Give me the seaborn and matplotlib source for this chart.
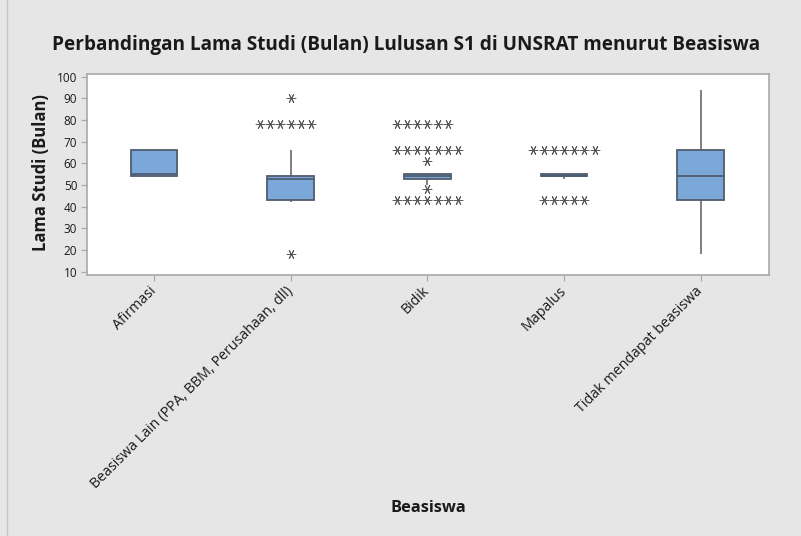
import numpy as np
import pandas as pd
import matplotlib
matplotlib.use("Agg")
import matplotlib.pyplot as plt
import seaborn as sns
from matplotlib.lines import Line2D

# ---- data (values in months, with how many graduates had each value) ----
categories = ["Afirmasi", "Beasiswa Lain (PPA, BBM, Perusahaan, dll)", "Bidik",
              "Mapalus", "Tidak mendapat beasiswa"]

afirmasi_values = [54, 55, 66]
afirmasi_counts = [2, 1, 2]

lain_values = [18, 42, 43, 45, 48, 50, 52, 53, 54, 66, 78, 90]
lain_counts = [1, 1, 8, 1, 1, 1, 1, 5, 9, 2, 6, 1]

bidik_values = [43, 48, 50, 53, 54, 55, 61, 66, 78]
bidik_counts = [7, 1, 1, 14, 16, 8, 1, 7, 6]

mapalus_values = [43, 53, 54, 55, 66]
mapalus_counts = [5, 1, 11, 9, 7]

tidak_values = [18, 30, 42, 43, 48, 50, 54, 60, 64, 66, 78, 90, 94]
tidak_counts = [1, 1, 1, 1, 1, 1, 1, 1, 1, 1, 1, 1, 1]

title = "Perbandingan Lama Studi (Bulan) Lulusan S1 di UNSRAT menurut Beasiswa"
ylabel = "Lama Studi (Bulan)"
xlabel = "Beasiswa"
yticks = [10, 20, 30, 40, 50, 60, 70, 80, 90, 100]

groups = [(afirmasi_values, afirmasi_counts), (lain_values, lain_counts),
          (bidik_values, bidik_counts), (mapalus_values, mapalus_counts),
          (tidak_values, tidak_counts)]

rows = []
out_rows = []
for cat, (vals, cnts) in zip(categories, groups):
    v = np.repeat(np.array(vals, dtype=float), cnts)
    q1, q3 = np.percentile(v, [25, 75])
    iqr = q3 - q1
    for x in v:
        rows.append((cat, x))
        if x < q1 - 1.5 * iqr or x > q3 + 1.5 * iqr:
            out_rows.append((cat, x))
df = pd.DataFrame(rows, columns=["Beasiswa", "Lama"])
out_df = pd.DataFrame(out_rows, columns=["Beasiswa", "Lama"])

# ---- style ----
sns.set_theme(style="white")
plt.rcParams["font.family"] = ["Open Sans", "DejaVu Sans"]
BG = "#e6e6e6"
BOX = "#7ba7d9"
EDGE = "#4f5d70"
GREY = "#5c5c5c"
SPINE = "#a9a9a9"
TXT = "#1a1a1a"

W, H = 801, 536
fig = plt.figure(figsize=(W / 100, H / 100), dpi=100, facecolor=BG)
ax = fig.add_axes([87 / W, 1 - 275 / H, (769 - 87) / W, (275 - 74) / H])
ax.set_facecolor("white")

sns.boxplot(data=df, x="Beasiswa", y="Lama", order=categories, ax=ax,
            width=0.34, color=BOX, saturation=1, linecolor=EDGE, linewidth=1.3,
            showfliers=False, showcaps=False, whis=1.5,
            whiskerprops=dict(color=GREY, linewidth=1.1),
            medianprops=dict(color=EDGE, linewidth=1.3))

sns.swarmplot(data=out_df, x="Beasiswa", y="Lama", order=categories, ax=ax,
              marker=(6, 2, 90), size=6.3, color=GREY, linewidth=0.7,
              warn_thresh=1.0)

ax.set_xlim(-0.49, 4.5)
ax.set_ylim(8.5, 101.2)
ax.set_yticks(yticks)
ax.set_yticklabels([str(t) for t in yticks], fontsize=8.5, color=TXT)
ax.set_xticks(range(len(categories)))
ax.set_xticklabels(categories, rotation=45, ha="right", va="center",
                   rotation_mode="anchor", fontsize=10.3, color=TXT)
ax.tick_params(axis="both", direction="out", length=4, width=0.9, color=SPINE,
               left=True, bottom=True, pad=3)
ax.tick_params(axis="x", pad=6)
for s in ax.spines.values():
    s.set_visible(True)
    s.set_color(SPINE)
    s.set_linewidth(1.2)
ax.set_xlabel("")
ax.set_ylabel("")

fig.text(406 / W, 1 - 45 / H, title, ha="center", va="center",
         fontsize=13.7, fontweight="bold", color=TXT)
fig.text(41 / W, 1 - 173 / H, ylabel, ha="center", va="center", rotation=90,
         fontsize=12, fontweight="bold", color=TXT)
fig.text(428 / W, 1 - 508 / H, xlabel, ha="center", va="center",
         fontsize=11.8, fontweight="bold", color=TXT)

fig.add_artist(Line2D([6.5 / W, 6.5 / W], [0, 1], transform=fig.transFigure,
                      color="#c4c4c4", linewidth=1))

fig.savefig("out.png", dpi=100, facecolor=BG)
